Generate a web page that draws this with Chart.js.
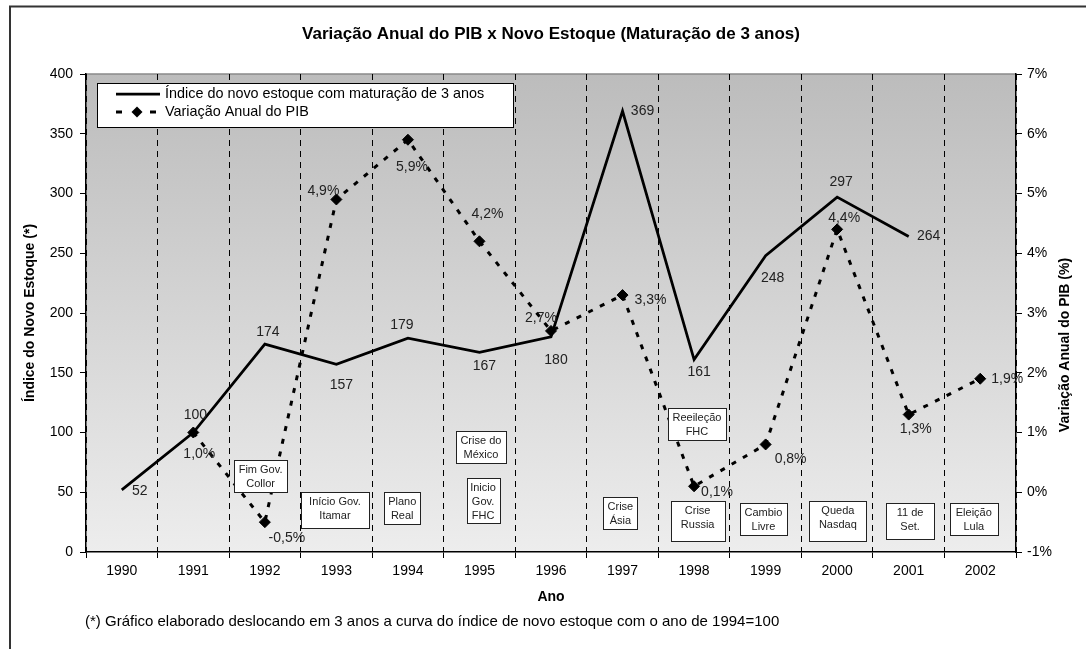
<!DOCTYPE html>
<html>
<head>
<meta charset="utf-8">
<title>Variação Anual do PIB x Novo Estoque</title>
<script src="https://cdn.jsdelivr.net/npm/chart.js@4.4.1/dist/chart.umd.min.js"></script>
<style>
    html, body { margin: 0; padding: 0; background: #fff; }
    canvas { display: block; }
</style>
</head>
<body>
<canvas id="PibChart" width="1086" height="649"></canvas>
<script>
// ---------------- Data ----------------
const years = ["1990", "1991", "1992", "1993", "1994", "1995", "1996",
               "1997", "1998", "1999", "2000", "2001", "2002"];

// Índice do novo estoque (deslocado 3 anos, 1994 = 100)
const estoqueIndex = [52, 100, 174, 157, 179, 167, 180, 369, 161, 248, 297, 264, null];

// Variação anual do PIB (%)
const pibVariation = [null, 1.0, -0.5, 4.9, 5.9, 4.2, 2.7, 3.3, 0.1, 0.8, 4.4, 1.3, 1.9];

const leftTicks = [0, 50, 100, 150, 200, 250, 300, 350, 400];
const rightTicks = [-1, 0, 1, 2, 3, 4, 5, 6, 7];

// event boxes, placed on the category axis (index) and left axis value
const eventNotes = [
    { lines: ["Fim Gov.", "Collor"],      at: 1.94,  value: 64,  w: 53, h: 32 },
    { lines: ["Início Gov.", "Itamar"],   at: 2.98,  value: 35,  w: 68, h: 36 },
    { lines: ["Plano", "Real"],           at: 3.92,  value: 37,  w: 36, h: 32 },
    { lines: ["Crise do", "México"],      at: 5.02,  value: 88,  w: 50, h: 32 },
    { lines: ["Inicio", "Gov.", "FHC"],   at: 5.05,  value: 43,  w: 33, h: 45 },
    { lines: ["Crise", "Ásia"],           at: 6.97,  value: 33,  w: 34, h: 32 },
    { lines: ["Reeileção", "FHC"],        at: 8.04,  value: 107, w: 58, h: 32 },
    { lines: ["Crise", "Russia"],         at: 8.05,  value: 26,  w: 54, h: 40 },
    { lines: ["Cambio", "Livre"],         at: 8.97,  value: 28,  w: 47, h: 32 },
    { lines: ["Queda", "Nasdaq"],         at: 10.01, value: 26,  w: 57, h: 40 },
    { lines: ["11 de", "Set."],           at: 11.02, value: 26,  w: 48, h: 36 },
    { lines: ["Eleição", "Lula"],         at: 11.91, value: 28,  w: 48, h: 32 }
];

// label offsets (px) from each point
const indexLabelOffsets = [[18, 1], [2, -17], [3, -12], [5, 21], [-6, -13], [5, 14], [5, 23],
                           [20, 0], [5, 13], [7, 23], [4, -15], [20, 0], null];
const pibLabelOffsets = [null, [6, 22], [22, 16], [-13, -8], [4, 27], [8, -27], [-10, -13],
                         [28, 5], [23, 6], [25, 15], [7, -11], [7, 15], [27, 0]];

const FONT = "'Liberation Sans', Arial, sans-serif";
Chart.defaults.font.family = FONT;
Chart.defaults.color = "#000";


// ---------------- Helpers ----------------
function fmtPct(v) {
    return v.toFixed(1).replace(".", ",") + "%";
}

function drawValueLabels(chart, dsIndex, texts, offsets) {
    const ctx = chart.ctx;
    const meta = chart.getDatasetMeta(dsIndex);

    meta.data.forEach((pt, i) => {
        if (texts[i] == null || !offsets[i]) return;
        ctx.fillText(texts[i], pt.x + offsets[i][0], pt.y + offsets[i][1]);
    });
}

function drawDiamond(ctx, x, y, r) {
    ctx.beginPath();
    ctx.moveTo(x, y - r);
    ctx.lineTo(x + r, y);
    ctx.lineTo(x, y + r);
    ctx.lineTo(x - r, y);
    ctx.closePath();
    ctx.fill();
}


// ---------------- Decorations ----------------
const decorPlugin = {
    id: "decor",

    beforeDraw(chart) {
        const { ctx, chartArea: a } = chart;
        ctx.save();

        ctx.fillStyle = "#fff";
        ctx.fillRect(0, 0, chart.width, chart.height);

        const g = ctx.createLinearGradient(0, a.top, 0, a.bottom);
        g.addColorStop(0, "#bcbcbc");
        g.addColorStop(1, "#ededed");
        ctx.fillStyle = g;
        ctx.fillRect(a.left, a.top, a.right - a.left, a.bottom - a.top);

        ctx.strokeStyle = "#8a8a8a";
        ctx.lineWidth = 1.5;
        ctx.beginPath();
        ctx.moveTo(a.left, a.top);
        ctx.lineTo(a.right, a.top);
        ctx.stroke();

        // outer frame
        ctx.strokeStyle = "#333";
        ctx.lineWidth = 2;
        ctx.beginPath();
        ctx.moveTo(10, chart.height);
        ctx.lineTo(10, 6.5);
        ctx.lineTo(chart.width, 6.5);
        ctx.stroke();

        ctx.restore();
    },

    afterDatasetsDraw(chart) {
        const { ctx, chartArea: a, scales } = chart;
        ctx.save();

        // event boxes
        ctx.font = "11px " + FONT;
        ctx.textAlign = "center";
        ctx.textBaseline = "middle";
        eventNotes.forEach(n => {
            const cx = scales.x.getPixelForValue(n.at);
            const cy = scales.y.getPixelForValue(n.value);
            const x0 = Math.round(cx - n.w / 2) + 0.5;
            const y0 = Math.round(cy - n.h / 2) + 0.5;
            ctx.fillStyle = "#fff";
            ctx.fillRect(x0, y0, n.w, n.h);
            ctx.strokeStyle = "#222";
            ctx.lineWidth = 1;
            ctx.strokeRect(x0, y0, n.w, n.h);
            ctx.fillStyle = "#222";
            n.lines.forEach((t, k) => ctx.fillText(t, cx, y0 + 9 + k * 14));
        });

        // value labels
        ctx.font = "14px " + FONT;
        ctx.fillStyle = "#222";
        drawValueLabels(chart, 0, estoqueIndex.map(v => v == null ? null : String(v)), indexLabelOffsets);
        drawValueLabels(chart, 1, pibVariation.map(v => v == null ? null : fmtPct(v)), pibLabelOffsets);

        // legend box
        const lx = a.left + 11, ly = a.top + 9, lw = 416, lh = 44;
        ctx.fillStyle = "#fff";
        ctx.fillRect(lx, ly, lw, lh);
        ctx.strokeStyle = "#000";
        ctx.lineWidth = 1;
        ctx.strokeRect(lx + 0.5, ly + 0.5, lw, lh);

        ctx.strokeStyle = "#000";
        ctx.lineWidth = 2.75;
        ctx.beginPath();
        ctx.moveTo(lx + 19, ly + 11);
        ctx.lineTo(lx + 63, ly + 11);
        ctx.stroke();

        ctx.lineWidth = 3;
        ctx.beginPath();
        ctx.moveTo(lx + 19, ly + 29); ctx.lineTo(lx + 25, ly + 29);
        ctx.moveTo(lx + 53, ly + 29); ctx.lineTo(lx + 59, ly + 29);
        ctx.stroke();
        ctx.fillStyle = "#000";
        drawDiamond(ctx, lx + 40, ly + 29, 5.5);

        ctx.font = "14.4px " + FONT;
        ctx.textAlign = "left";
        ctx.fillStyle = "#000";
        ctx.fillText(chart.data.datasets[0].label, lx + 68, ly + 11);
        ctx.fillText(chart.data.datasets[1].label, lx + 68, ly + 29);

        ctx.restore();
    },

    afterDraw(chart) {
        const { ctx, chartArea: a } = chart;
        ctx.save();

        // right axis title (reads bottom to top)
        ctx.font = "bold 14px " + FONT;
        ctx.fillStyle = "#000";
        ctx.textAlign = "center";
        ctx.textBaseline = "middle";
        ctx.translate(a.right + 49, (a.top + a.bottom) / 2 + 32);
        ctx.rotate(-Math.PI / 2);
        ctx.fillText("Variação Anual do PIB (%)", 0, 0);
        ctx.restore();

        ctx.save();
        ctx.font = "15px " + FONT;
        ctx.fillStyle = "#000";
        ctx.textAlign = "left";
        ctx.textBaseline = "middle";
        ctx.fillText("(*) Gráfico elaborado deslocando em 3 anos a curva do índice de novo estoque com o ano de 1994=100", 85, a.bottom + 70);
        ctx.restore();
    }
};


// ---------------- Chart ----------------
const ctx = document.getElementById("PibChart").getContext("2d");

new Chart(ctx, {
    type: "line",
    data: {
        labels: years,
        datasets: [
            {
                label: "Índice do novo estoque com maturação de 3 anos",
                data: estoqueIndex,
                yAxisID: "y",
                borderColor: "#000",
                borderWidth: 2.75,
                pointRadius: 0,
                tension: 0,
                fill: false
            },
            {
                label: "Variação Anual do PIB",
                data: pibVariation,
                yAxisID: "y1",
                borderColor: "#000",
                borderWidth: 3,
                borderDash: [5, 8],
                pointStyle: "rectRot",
                pointRadius: 5.5,
                pointBackgroundColor: "#000",
                pointBorderColor: "#000",
                pointBorderWidth: 1,
                tension: 0,
                fill: false
            }
        ]
    },
    options: {
        responsive: false,
        animation: false,
        devicePixelRatio: 1,
        layout: { padding: 0 },
        plugins: {
            legend: { display: false },
            tooltip: { enabled: false },
            title: {
                display: true,
                text: "Variação Anual do PIB x Novo Estoque (Maturação de 3 anos)",
                fullSize: false,
                color: "#000",
                font: { size: 17, weight: "bold" },
                padding: { top: 23.8, bottom: 29.8 }
            }
        },
        scales: {
            x: {
                offset: true,
                grid: {
                    offset: true,
                    color: "#000",
                    lineWidth: 1,
                    tickLength: 6,
                    tickColor: "#000"
                },
                border: { color: "#000", width: 1.5, dash: [6, 5] },
                ticks: { font: { size: 14 }, color: "#000", padding: 5, maxRotation: 0, autoSkip: false },
                title: {
                    display: true,
                    text: "Ano",
                    font: { size: 14, weight: "bold" },
                    padding: { top: 0, bottom: 43.6 }
                },
                afterFit: s => { s.height = 97; }
            },
            y: {
                position: "left",
                min: leftTicks[0],
                max: leftTicks[leftTicks.length - 1],
                grid: { drawOnChartArea: false, tickLength: 6, tickColor: "#000" },
                border: { color: "#000", width: 1.5 },
                ticks: { stepSize: leftTicks[1] - leftTicks[0], font: { size: 14 }, color: "#000", padding: 7 },
                title: {
                    display: true,
                    text: "Índice do Novo Estoque (*)",
                    font: { size: 14, weight: "bold" },
                    padding: { top: 21.6, bottom: 0 }
                },
                afterFit: s => { s.width = 86; }
            },
            y1: {
                position: "right",
                min: rightTicks[0],
                max: rightTicks[rightTicks.length - 1],
                grid: { drawOnChartArea: false, tickLength: 6, tickColor: "#000" },
                border: { color: "#000", width: 1.5 },
                ticks: {
                    stepSize: rightTicks[1] - rightTicks[0],
                    font: { size: 14 },
                    color: "#000",
                    padding: 5,
                    callback: v => v + "%"
                },
                afterFit: s => { s.width = 70; }
            }
        }
    },
    plugins: [decorPlugin]
});
</script>
</body>
</html>
